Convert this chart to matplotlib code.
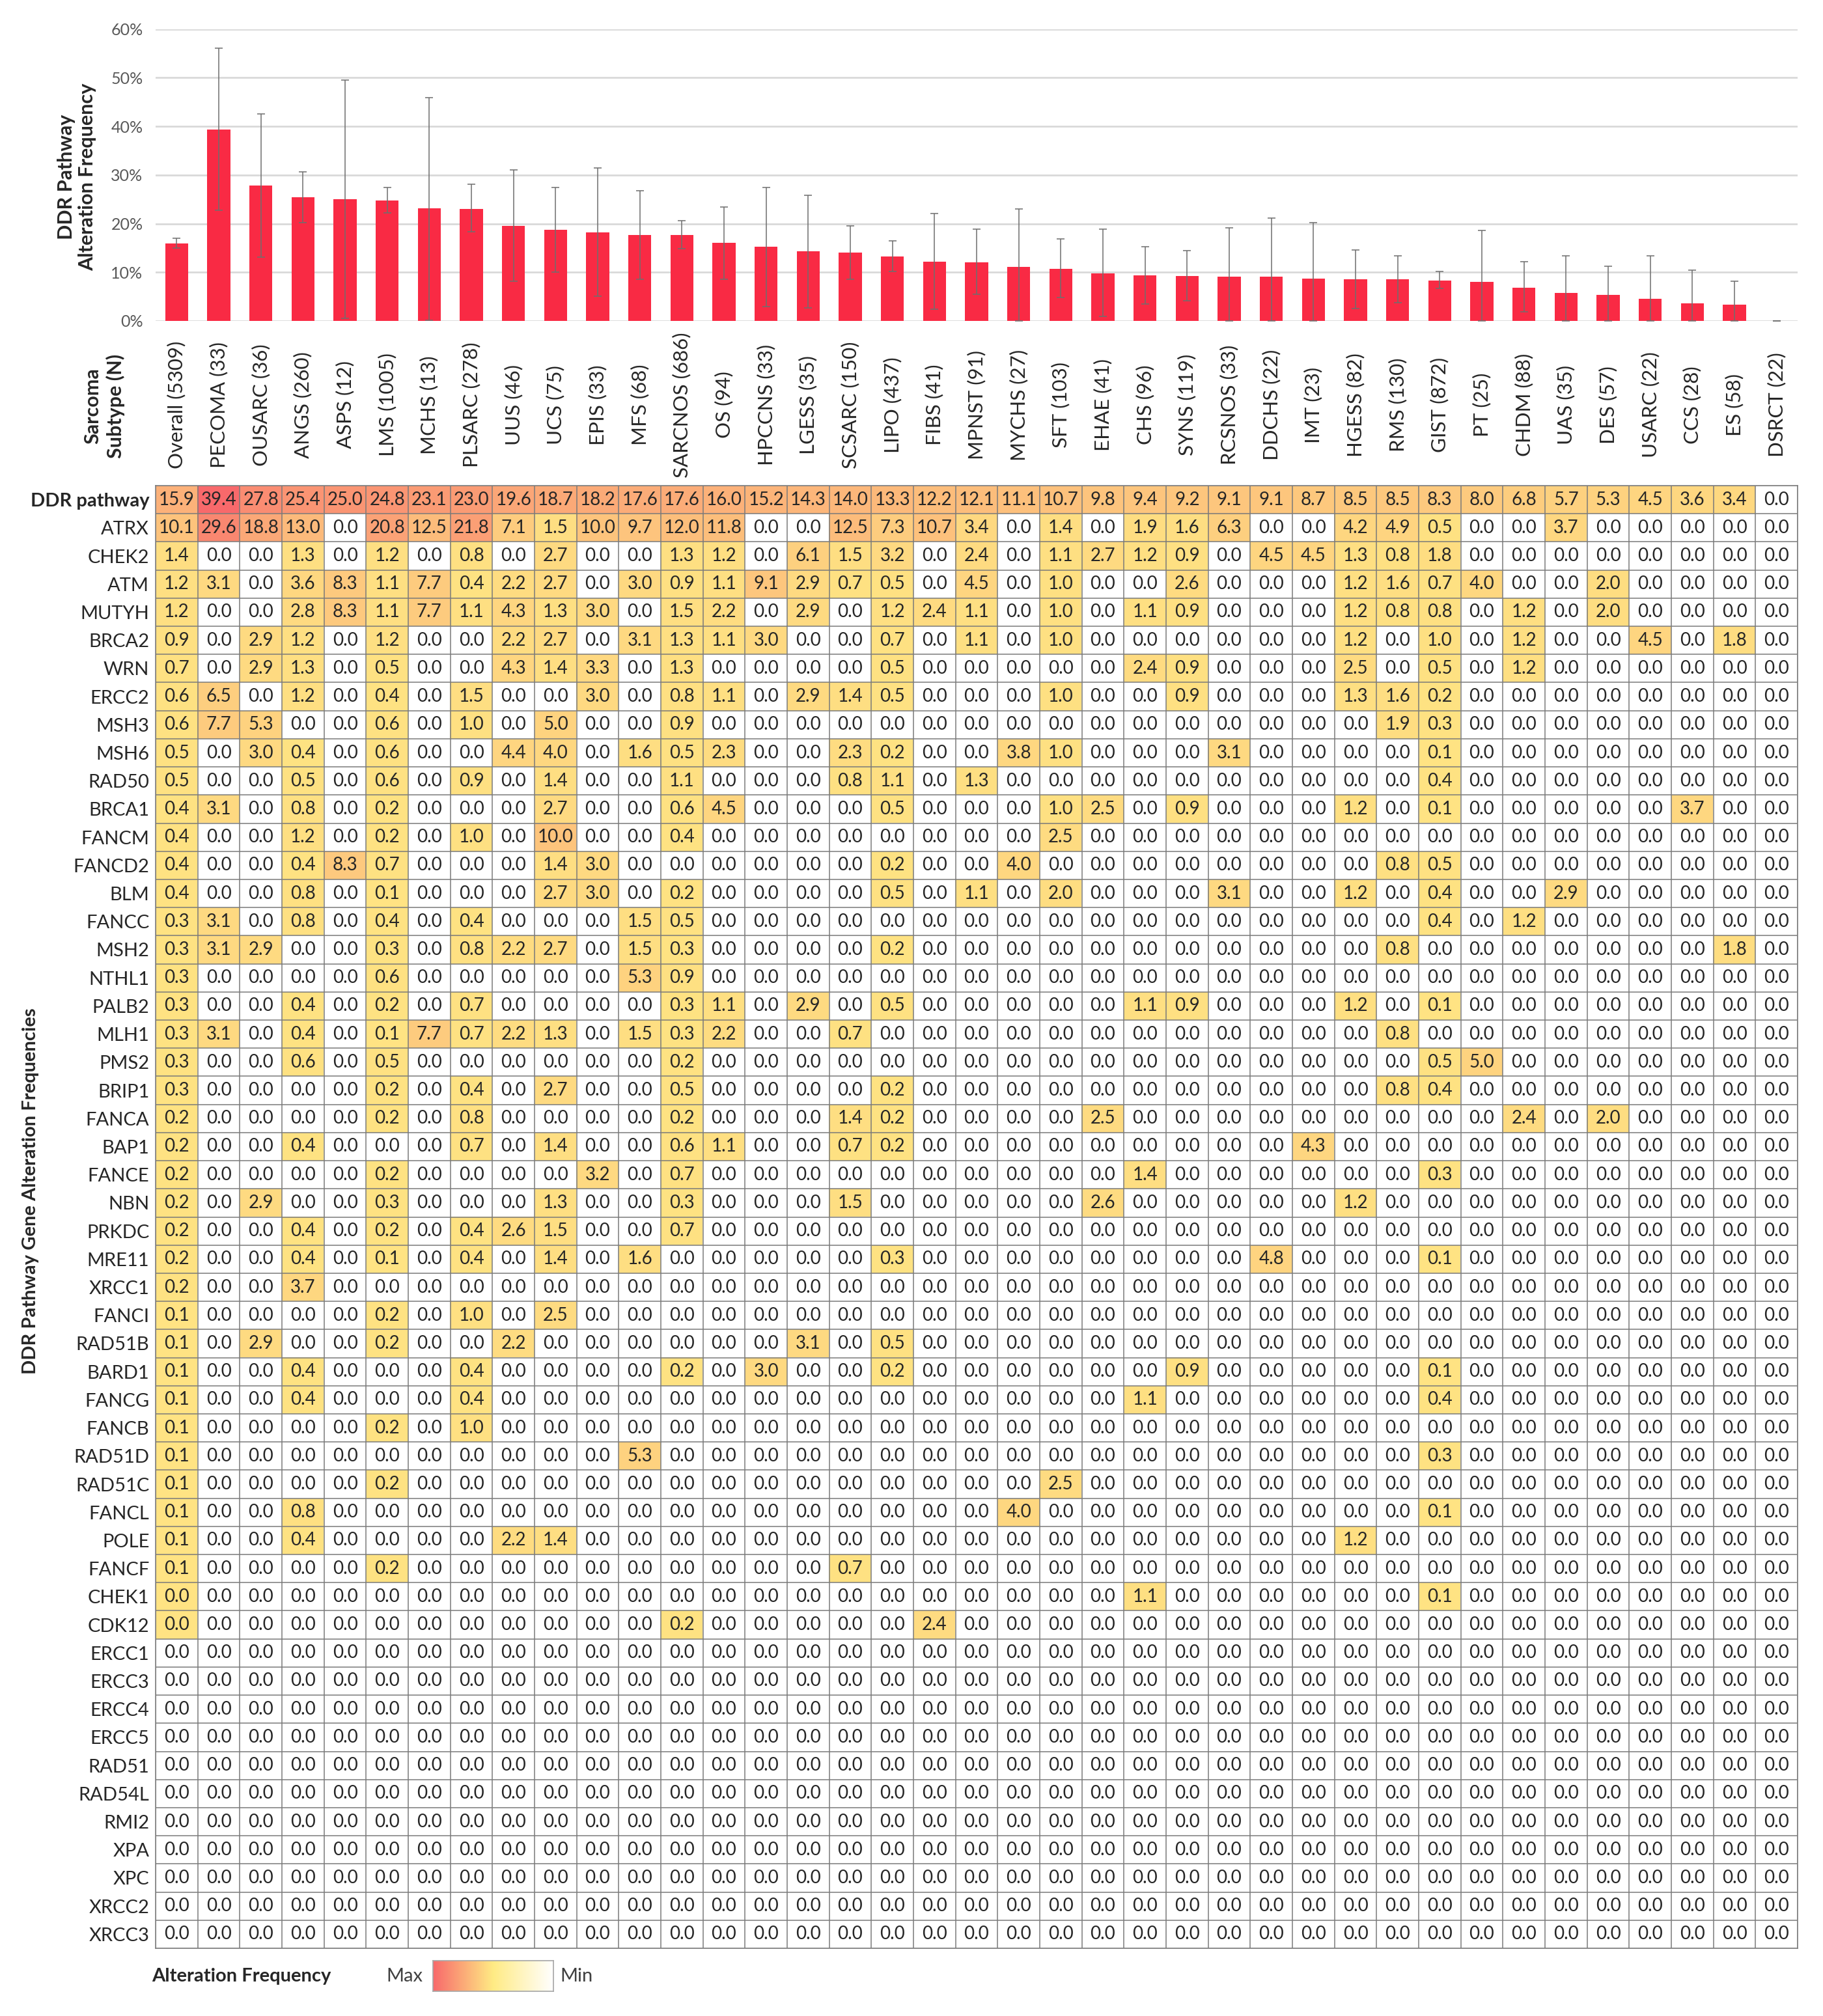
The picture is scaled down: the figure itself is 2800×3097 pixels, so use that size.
import numpy as np
import matplotlib
matplotlib.use("Agg")
import matplotlib.pyplot as plt
from matplotlib.colors import LinearSegmentedColormap
from matplotlib.transforms import blended_transform_factory

plt.rcParams['font.family'] = ['Lato', 'DejaVu Sans']

# sarcoma subtypes and case counts
subtypes = ['Overall', 'PECOMA', 'OUSARC', 'ANGS', 'ASPS', 'LMS', 'MCHS', 'PLSARC', 'UUS', 'UCS',
            'EPIS', 'MFS', 'SARCNOS', 'OS', 'HPCCNS', 'LGESS', 'SCSARC', 'LIPO', 'FIBS', 'MPNST',
            'MYCHS', 'SFT', 'EHAE', 'CHS', 'SYNS', 'RCSNOS', 'DDCHS', 'IMT', 'HGESS', 'RMS',
            'GIST', 'PT', 'CHDM', 'UAS', 'DES', 'USARC', 'CCS', 'ES', 'DSRCT']
n_cases = [5309, 33, 36, 260, 12, 1005, 13, 278, 46, 75,
           33, 68, 686, 94, 33, 35, 150, 437, 41, 91,
           27, 103, 41, 96, 119, 33, 22, 23, 82, 130,
           872, 25, 88, 35, 57, 22, 28, 58, 22]

# error bar ends (%)
ci_low = [15.0, 22.8, 13.1, 20.2, 0.5, 22.2, 0.2, 18.3, 8.2, 10.1,
          5.1, 8.6, 14.9, 8.6, 3.0, 2.7, 8.6, 10.2, 2.4, 5.5,
          0.0, 4.8, 0.9, 3.5, 4.2, 0.0, 0.0, 0.0, 2.6, 3.8,
          6.7, 0.0, 1.9, 0.0, 0.0, 0.0, 0.0, 0.0, 0.0]
ci_high = [17.0, 56.1, 42.5, 30.6, 49.5, 27.4, 45.9, 28.1, 31.1, 27.4,
           31.5, 26.8, 20.6, 23.4, 27.4, 25.8, 19.5, 16.5, 22.1, 18.9,
           23.0, 16.8, 18.9, 15.2, 14.4, 19.1, 21.2, 20.2, 14.6, 13.4,
           10.2, 18.6, 12.2, 13.4, 11.2, 13.4, 10.5, 8.2, 0.0]

# alteration frequency (%) per row
ddr_pathway = [15.9, 39.4, 27.8, 25.4, 25.0, 24.8, 23.1, 23.0, 19.6, 18.7,
               18.2, 17.6, 17.6, 16.0, 15.2, 14.3, 14.0, 13.3, 12.2, 12.1, 11.1, 10.7, 9.8, 9.4,
               9.2, 9.1, 9.1, 8.7, 8.5, 8.5, 8.3, 8.0, 6.8, 5.7, 5.3, 4.5, 3.6, 3.4, 0.0]
atrx = [10.1, 29.6, 18.8, 13.0, 0, 20.8, 12.5, 21.8, 7.1, 1.5,
        10.0, 9.7, 12.0, 11.8, 0, 0, 12.5, 7.3, 10.7, 3.4, 0, 1.4, 0, 1.9,
        1.6, 6.3, 0, 0, 4.2, 4.9, 0.5, 0, 0, 3.7, 0, 0, 0, 0, 0]
chek2 = [1.4, 0, 0, 1.3, 0, 1.2, 0, 0.8, 0, 2.7,
         0, 0, 1.3, 1.2, 0, 6.1, 1.5, 3.2, 0, 2.4, 0, 1.1, 2.7, 1.2,
         0.9, 0, 4.5, 4.5, 1.3, 0.8, 1.8, 0, 0, 0, 0, 0, 0, 0, 0]
atm = [1.2, 3.1, 0, 3.6, 8.3, 1.1, 7.7, 0.4, 2.2, 2.7,
       0, 3.0, 0.9, 1.1, 9.1, 2.9, 0.7, 0.5, 0, 4.5, 0, 1.0, 0, 0,
       2.6, 0, 0, 0, 1.2, 1.6, 0.7, 4.0, 0, 0, 2.0, 0, 0, 0, 0]
mutyh = [1.2, 0, 0, 2.8, 8.3, 1.1, 7.7, 1.1, 4.3, 1.3,
         3.0, 0, 1.5, 2.2, 0, 2.9, 0, 1.2, 2.4, 1.1, 0, 1.0, 0, 1.1,
         0.9, 0, 0, 0, 1.2, 0.8, 0.8, 0, 1.2, 0, 2.0, 0, 0, 0, 0]
brca2 = [0.9, 0, 2.9, 1.2, 0, 1.2, 0, 0, 2.2, 2.7,
         0, 3.1, 1.3, 1.1, 3.0, 0, 0, 0.7, 0, 1.1, 0, 1.0, 0, 0,
         0, 0, 0, 0, 1.2, 0, 1.0, 0, 1.2, 0, 0, 4.5, 0, 1.8, 0]
wrn = [0.7, 0, 2.9, 1.3, 0, 0.5, 0, 0, 4.3, 1.4,
       3.3, 0, 1.3, 0, 0, 0, 0, 0.5, 0, 0, 0, 0, 0, 2.4,
       0.9, 0, 0, 0, 2.5, 0, 0.5, 0, 1.2, 0, 0, 0, 0, 0, 0]
ercc2 = [0.6, 6.5, 0, 1.2, 0, 0.4, 0, 1.5, 0, 0,
         3.0, 0, 0.8, 1.1, 0, 2.9, 1.4, 0.5, 0, 0, 0, 1.0, 0, 0,
         0.9, 0, 0, 0, 1.3, 1.6, 0.2, 0, 0, 0, 0, 0, 0, 0, 0]
msh3 = [0.6, 7.7, 5.3, 0, 0, 0.6, 0, 1.0, 0, 5.0,
        0, 0, 0.9, 0, 0, 0, 0, 0, 0, 0, 0, 0, 0, 0,
        0, 0, 0, 0, 0, 1.9, 0.3, 0, 0, 0, 0, 0, 0, 0, 0]
msh6 = [0.5, 0, 3.0, 0.4, 0, 0.6, 0, 0, 4.4, 4.0,
        0, 1.6, 0.5, 2.3, 0, 0, 2.3, 0.2, 0, 0, 3.8, 1.0, 0, 0,
        0, 3.1, 0, 0, 0, 0, 0.1, 0, 0, 0, 0, 0, 0, 0, 0]
rad50 = [0.5, 0, 0, 0.5, 0, 0.6, 0, 0.9, 0, 1.4,
         0, 0, 1.1, 0, 0, 0, 0.8, 1.1, 0, 1.3, 0, 0, 0, 0,
         0, 0, 0, 0, 0, 0, 0.4, 0, 0, 0, 0, 0, 0, 0, 0]
brca1 = [0.4, 3.1, 0, 0.8, 0, 0.2, 0, 0, 0, 2.7,
         0, 0, 0.6, 4.5, 0, 0, 0, 0.5, 0, 0, 0, 1.0, 2.5, 0,
         0.9, 0, 0, 0, 1.2, 0, 0.1, 0, 0, 0, 0, 0, 3.7, 0, 0]
fancm = [0.4, 0, 0, 1.2, 0, 0.2, 0, 1.0, 0, 10.0,
         0, 0, 0.4, 0, 0, 0, 0, 0, 0, 0, 0, 2.5, 0, 0,
         0, 0, 0, 0, 0, 0, 0, 0, 0, 0, 0, 0, 0, 0, 0]
fancd2 = [0.4, 0, 0, 0.4, 8.3, 0.7, 0, 0, 0, 1.4,
          3.0, 0, 0, 0, 0, 0, 0, 0.2, 0, 0, 4.0, 0, 0, 0,
          0, 0, 0, 0, 0, 0.8, 0.5, 0, 0, 0, 0, 0, 0, 0, 0]
blm = [0.4, 0, 0, 0.8, 0, 0.1, 0, 0, 0, 2.7,
       3.0, 0, 0.2, 0, 0, 0, 0, 0.5, 0, 1.1, 0, 2.0, 0, 0,
       0, 3.1, 0, 0, 1.2, 0, 0.4, 0, 0, 2.9, 0, 0, 0, 0, 0]
fancc = [0.3, 3.1, 0, 0.8, 0, 0.4, 0, 0.4, 0, 0,
         0, 1.5, 0.5, 0, 0, 0, 0, 0, 0, 0, 0, 0, 0, 0,
         0, 0, 0, 0, 0, 0, 0.4, 0, 1.2, 0, 0, 0, 0, 0, 0]
msh2 = [0.3, 3.1, 2.9, 0, 0, 0.3, 0, 0.8, 2.2, 2.7,
        0, 1.5, 0.3, 0, 0, 0, 0, 0.2, 0, 0, 0, 0, 0, 0,
        0, 0, 0, 0, 0, 0.8, 0, 0, 0, 0, 0, 0, 0, 1.8, 0]
nthl1 = [0.3, 0, 0, 0, 0, 0.6, 0, 0, 0, 0,
         0, 5.3, 0.9, 0, 0, 0, 0, 0, 0, 0, 0, 0, 0, 0,
         0, 0, 0, 0, 0, 0, 0, 0, 0, 0, 0, 0, 0, 0, 0]
palb2 = [0.3, 0, 0, 0.4, 0, 0.2, 0, 0.7, 0, 0,
         0, 0, 0.3, 1.1, 0, 2.9, 0, 0.5, 0, 0, 0, 0, 0, 1.1,
         0.9, 0, 0, 0, 1.2, 0, 0.1, 0, 0, 0, 0, 0, 0, 0, 0]
mlh1 = [0.3, 3.1, 0, 0.4, 0, 0.1, 7.7, 0.7, 2.2, 1.3,
        0, 1.5, 0.3, 2.2, 0, 0, 0.7, 0, 0, 0, 0, 0, 0, 0,
        0, 0, 0, 0, 0, 0.8, 0, 0, 0, 0, 0, 0, 0, 0, 0]
pms2 = [0.3, 0, 0, 0.6, 0, 0.5, 0, 0, 0, 0,
        0, 0, 0.2, 0, 0, 0, 0, 0, 0, 0, 0, 0, 0, 0,
        0, 0, 0, 0, 0, 0, 0.5, 5.0, 0, 0, 0, 0, 0, 0, 0]
brip1 = [0.3, 0, 0, 0, 0, 0.2, 0, 0.4, 0, 2.7,
         0, 0, 0.5, 0, 0, 0, 0, 0.2, 0, 0, 0, 0, 0, 0,
         0, 0, 0, 0, 0, 0.8, 0.4, 0, 0, 0, 0, 0, 0, 0, 0]
fanca = [0.2, 0, 0, 0, 0, 0.2, 0, 0.8, 0, 0,
         0, 0, 0.2, 0, 0, 0, 1.4, 0.2, 0, 0, 0, 0, 2.5, 0,
         0, 0, 0, 0, 0, 0, 0, 0, 2.4, 0, 2.0, 0, 0, 0, 0]
bap1 = [0.2, 0, 0, 0.4, 0, 0, 0, 0.7, 0, 1.4,
        0, 0, 0.6, 1.1, 0, 0, 0.7, 0.2, 0, 0, 0, 0, 0, 0,
        0, 0, 0, 4.3, 0, 0, 0, 0, 0, 0, 0, 0, 0, 0, 0]
fance = [0.2, 0, 0, 0, 0, 0.2, 0, 0, 0, 0,
         3.2, 0, 0.7, 0, 0, 0, 0, 0, 0, 0, 0, 0, 0, 1.4,
         0, 0, 0, 0, 0, 0, 0.3, 0, 0, 0, 0, 0, 0, 0, 0]
nbn = [0.2, 0, 2.9, 0, 0, 0.3, 0, 0, 0, 1.3,
       0, 0, 0.3, 0, 0, 0, 1.5, 0, 0, 0, 0, 0, 2.6, 0,
       0, 0, 0, 0, 1.2, 0, 0, 0, 0, 0, 0, 0, 0, 0, 0]
prkdc = [0.2, 0, 0, 0.4, 0, 0.2, 0, 0.4, 2.6, 1.5,
         0, 0, 0.7, 0, 0, 0, 0, 0, 0, 0, 0, 0, 0, 0,
         0, 0, 0, 0, 0, 0, 0, 0, 0, 0, 0, 0, 0, 0, 0]
mre11 = [0.2, 0, 0, 0.4, 0, 0.1, 0, 0.4, 0, 1.4,
         0, 1.6, 0, 0, 0, 0, 0, 0.3, 0, 0, 0, 0, 0, 0,
         0, 0, 4.8, 0, 0, 0, 0.1, 0, 0, 0, 0, 0, 0, 0, 0]
xrcc1 = [0.2, 0, 0, 3.7, 0, 0, 0, 0, 0, 0,
         0, 0, 0, 0, 0, 0, 0, 0, 0, 0, 0, 0, 0, 0,
         0, 0, 0, 0, 0, 0, 0, 0, 0, 0, 0, 0, 0, 0, 0]
fanci = [0.1, 0, 0, 0, 0, 0.2, 0, 1.0, 0, 2.5,
         0, 0, 0, 0, 0, 0, 0, 0, 0, 0, 0, 0, 0, 0,
         0, 0, 0, 0, 0, 0, 0, 0, 0, 0, 0, 0, 0, 0, 0]
rad51b = [0.1, 0, 2.9, 0, 0, 0.2, 0, 0, 2.2, 0,
          0, 0, 0, 0, 0, 3.1, 0, 0.5, 0, 0, 0, 0, 0, 0,
          0, 0, 0, 0, 0, 0, 0, 0, 0, 0, 0, 0, 0, 0, 0]
bard1 = [0.1, 0, 0, 0.4, 0, 0, 0, 0.4, 0, 0,
         0, 0, 0.2, 0, 3.0, 0, 0, 0.2, 0, 0, 0, 0, 0, 0,
         0.9, 0, 0, 0, 0, 0, 0.1, 0, 0, 0, 0, 0, 0, 0, 0]
fancg = [0.1, 0, 0, 0.4, 0, 0, 0, 0.4, 0, 0,
         0, 0, 0, 0, 0, 0, 0, 0, 0, 0, 0, 0, 0, 1.1,
         0, 0, 0, 0, 0, 0, 0.4, 0, 0, 0, 0, 0, 0, 0, 0]
fancb = [0.1, 0, 0, 0, 0, 0.2, 0, 1.0, 0, 0,
         0, 0, 0, 0, 0, 0, 0, 0, 0, 0, 0, 0, 0, 0,
         0, 0, 0, 0, 0, 0, 0, 0, 0, 0, 0, 0, 0, 0, 0]
rad51d = [0.1, 0, 0, 0, 0, 0, 0, 0, 0, 0,
          0, 5.3, 0, 0, 0, 0, 0, 0, 0, 0, 0, 0, 0, 0,
          0, 0, 0, 0, 0, 0, 0.3, 0, 0, 0, 0, 0, 0, 0, 0]
rad51c = [0.1, 0, 0, 0, 0, 0.2, 0, 0, 0, 0,
          0, 0, 0, 0, 0, 0, 0, 0, 0, 0, 0, 2.5, 0, 0,
          0, 0, 0, 0, 0, 0, 0, 0, 0, 0, 0, 0, 0, 0, 0]
fancl = [0.1, 0, 0, 0.8, 0, 0, 0, 0, 0, 0,
         0, 0, 0, 0, 0, 0, 0, 0, 0, 0, 4.0, 0, 0, 0,
         0, 0, 0, 0, 0, 0, 0.1, 0, 0, 0, 0, 0, 0, 0, 0]
pole = [0.1, 0, 0, 0.4, 0, 0, 0, 0, 2.2, 1.4,
        0, 0, 0, 0, 0, 0, 0, 0, 0, 0, 0, 0, 0, 0,
        0, 0, 0, 0, 1.2, 0, 0, 0, 0, 0, 0, 0, 0, 0, 0]
fancf = [0.1, 0, 0, 0, 0, 0.2, 0, 0, 0, 0,
         0, 0, 0, 0, 0, 0, 0.7, 0, 0, 0, 0, 0, 0, 0,
         0, 0, 0, 0, 0, 0, 0, 0, 0, 0, 0, 0, 0, 0, 0]
chek1 = [0.04, 0, 0, 0, 0, 0, 0, 0, 0, 0,
         0, 0, 0, 0, 0, 0, 0, 0, 0, 0, 0, 0, 0, 1.1,
         0, 0, 0, 0, 0, 0, 0.1, 0, 0, 0, 0, 0, 0, 0, 0]
cdk12 = [0.03, 0, 0, 0, 0, 0, 0, 0, 0, 0,
         0, 0, 0.2, 0, 0, 0, 0, 0, 2.4, 0, 0, 0, 0, 0,
         0, 0, 0, 0, 0, 0, 0, 0, 0, 0, 0, 0, 0, 0, 0]
ercc1 = [0, 0, 0, 0, 0, 0, 0, 0, 0, 0, 0, 0, 0, 0, 0, 0, 0, 0, 0, 0,
         0, 0, 0, 0, 0, 0, 0, 0, 0, 0, 0, 0, 0, 0, 0, 0, 0, 0, 0]
ercc3 = [0, 0, 0, 0, 0, 0, 0, 0, 0, 0, 0, 0, 0, 0, 0, 0, 0, 0, 0, 0,
         0, 0, 0, 0, 0, 0, 0, 0, 0, 0, 0, 0, 0, 0, 0, 0, 0, 0, 0]
ercc4 = [0, 0, 0, 0, 0, 0, 0, 0, 0, 0, 0, 0, 0, 0, 0, 0, 0, 0, 0, 0,
         0, 0, 0, 0, 0, 0, 0, 0, 0, 0, 0, 0, 0, 0, 0, 0, 0, 0, 0]
ercc5 = [0, 0, 0, 0, 0, 0, 0, 0, 0, 0, 0, 0, 0, 0, 0, 0, 0, 0, 0, 0,
         0, 0, 0, 0, 0, 0, 0, 0, 0, 0, 0, 0, 0, 0, 0, 0, 0, 0, 0]
rad51 = [0, 0, 0, 0, 0, 0, 0, 0, 0, 0, 0, 0, 0, 0, 0, 0, 0, 0, 0, 0,
         0, 0, 0, 0, 0, 0, 0, 0, 0, 0, 0, 0, 0, 0, 0, 0, 0, 0, 0]
rad54l = [0, 0, 0, 0, 0, 0, 0, 0, 0, 0, 0, 0, 0, 0, 0, 0, 0, 0, 0, 0,
          0, 0, 0, 0, 0, 0, 0, 0, 0, 0, 0, 0, 0, 0, 0, 0, 0, 0, 0]
rmi2 = [0, 0, 0, 0, 0, 0, 0, 0, 0, 0, 0, 0, 0, 0, 0, 0, 0, 0, 0, 0,
        0, 0, 0, 0, 0, 0, 0, 0, 0, 0, 0, 0, 0, 0, 0, 0, 0, 0, 0]
xpa = [0, 0, 0, 0, 0, 0, 0, 0, 0, 0, 0, 0, 0, 0, 0, 0, 0, 0, 0, 0,
       0, 0, 0, 0, 0, 0, 0, 0, 0, 0, 0, 0, 0, 0, 0, 0, 0, 0, 0]
xpc = [0, 0, 0, 0, 0, 0, 0, 0, 0, 0, 0, 0, 0, 0, 0, 0, 0, 0, 0, 0,
       0, 0, 0, 0, 0, 0, 0, 0, 0, 0, 0, 0, 0, 0, 0, 0, 0, 0, 0]
xrcc2 = [0, 0, 0, 0, 0, 0, 0, 0, 0, 0, 0, 0, 0, 0, 0, 0, 0, 0, 0, 0,
         0, 0, 0, 0, 0, 0, 0, 0, 0, 0, 0, 0, 0, 0, 0, 0, 0, 0, 0]
xrcc3 = [0, 0, 0, 0, 0, 0, 0, 0, 0, 0, 0, 0, 0, 0, 0, 0, 0, 0, 0, 0,
         0, 0, 0, 0, 0, 0, 0, 0, 0, 0, 0, 0, 0, 0, 0, 0, 0, 0, 0]

row_names = ['DDR pathway', 'ATRX', 'CHEK2', 'ATM', 'MUTYH', 'BRCA2', 'WRN', 'ERCC2', 'MSH3',
             'MSH6', 'RAD50', 'BRCA1', 'FANCM', 'FANCD2', 'BLM', 'FANCC', 'MSH2', 'NTHL1',
             'PALB2', 'MLH1', 'PMS2', 'BRIP1', 'FANCA', 'BAP1', 'FANCE', 'NBN', 'PRKDC',
             'MRE11', 'XRCC1', 'FANCI', 'RAD51B', 'BARD1', 'FANCG', 'FANCB', 'RAD51D',
             'RAD51C', 'FANCL', 'POLE', 'FANCF', 'CHEK1', 'CDK12', 'ERCC1', 'ERCC3', 'ERCC4',
             'ERCC5', 'RAD51', 'RAD54L', 'RMI2', 'XPA', 'XPC', 'XRCC2', 'XRCC3']
rows = [ddr_pathway, atrx, chek2, atm, mutyh, brca2, wrn, ercc2, msh3, msh6, rad50, brca1,
        fancm, fancd2, blm, fancc, msh2, nthl1, palb2, mlh1, pms2, brip1, fanca, bap1, fance,
        nbn, prkdc, mre11, xrcc1, fanci, rad51b, bard1, fancg, fancb, rad51d, rad51c, fancl,
        pole, fancf, chek1, cdk12, ercc1, ercc3, ercc4, ercc5, rad51, rad54l, rmi2, xpa, xpc,
        xrcc2, xrcc3]
for r in rows:
    assert len(r) == len(subtypes)

freq = np.array(rows, dtype=float)
ncol = len(subtypes)
nrow = len(rows)

W, H = 2800, 3097


def box(x0, y0, x1, y1):
    # pixel box -> figure fraction
    return [x0 / W, 1 - y1 / H, (x1 - x0) / W, (y1 - y0) / H]


fig = plt.figure(figsize=(W / 100, H / 100), dpi=100)
txt = '#262626'

# ---- bar chart ----
ax = fig.add_axes(box(239, 44.6, 2761, 493))
x = np.arange(ncol)
vals = np.array(ddr_pathway)
lo = vals - np.array(ci_low)
hi = np.array(ci_high) - vals
ax.bar(x, vals, width=0.55, color='#F92A44', zorder=2)
ax.errorbar(x, vals, yerr=[lo, hi], fmt='none', ecolor='#6E6E6E', elinewidth=1.1,
            capsize=4, capthick=1.1, zorder=3)
ax.set_xlim(-0.5, ncol - 0.5)
ax.set_ylim(0, 60)
ax.set_yticks(range(0, 61, 10))
ax.set_yticklabels([f'{t}%' for t in range(0, 61, 10)], fontsize=18, color='#595959')
ax.set_xticks([])
ax.tick_params(axis='y', length=0, pad=14)
ax.yaxis.grid(True, color='#D9D9D9', lw=2)
ax.set_axisbelow(True)
for s in ax.spines.values():
    s.set_visible(False)

fig.text(118 / W, 1 - 272 / H, 'DDR Pathway\nAlteration Frequency', rotation=90,
         ha='center', va='center', fontsize=22, fontweight='bold', color=txt, linespacing=1.15)
fig.text(160 / W, 1 - 624 / H, 'Sarcoma\nSubtype (N)', rotation=90,
         ha='center', va='center', fontsize=22, fontweight='bold', color=txt, linespacing=1.3)

# ---- heat table ----
axt = fig.add_axes(box(239, 746, 2761, 2993))
cmap = LinearSegmentedColormap.from_list('yr', ['#FFE383', '#F8696B'])
cmap.set_bad('white')
masked = np.ma.masked_where(freq <= 0, freq)
axt.imshow(masked, cmap=cmap, vmin=0, vmax=freq.max(), aspect='auto',
           extent=(-0.5, ncol - 0.5, nrow - 0.5, -0.5), interpolation='nearest')
axt.hlines(np.arange(-0.5, nrow), -0.5, ncol - 0.5, color='#7A7A7A', lw=1.1)
axt.vlines(np.arange(-0.5, ncol), -0.5, nrow - 0.5, color='#7A7A7A', lw=1.1)
for i in range(nrow):
    for j in range(ncol):
        axt.text(j, i, f'{freq[i, j]:.1f}', ha='center', va='center',
                 fontsize=20, color=txt)
axt.set_xlim(-0.5, ncol - 0.5)
axt.set_ylim(nrow - 0.5, -0.5)
axt.set_xticks([])
axt.set_yticks(range(nrow))
axt.set_yticklabels(row_names, fontsize=21, color=txt)
axt.get_yticklabels()[0].set_fontweight('bold')
axt.tick_params(axis='y', length=0, pad=7)
for s in axt.spines.values():
    s.set_color('#7A7A7A')
    s.set_linewidth(1.1)

# column labels between bars and table
tr = blended_transform_factory(axt.transData, fig.transFigure)
for j, (name, n) in enumerate(zip(subtypes, n_cases)):
    axt.text(j, 1 - 622 / H, f'{name} ({n})', transform=tr, rotation=90,
             ha='center', va='center', fontsize=22.5, color=txt)

fig.text(47 / W, 1 - 1830 / H, 'DDR Pathway Gene Alteration Frequencies', rotation=90,
         ha='center', va='center', fontsize=21, fontweight='bold', color=txt)

# ---- colour legend ----
fig.text(233 / W, 1 - 3036 / H, 'Alteration Frequency', ha='left', va='center',
         fontsize=21, fontweight='bold', color=txt)
fig.text(593 / W, 1 - 3036 / H, 'Max', ha='left', va='center', fontsize=21, color='#404040')
fig.text(860 / W, 1 - 3036 / H, 'Min', ha='left', va='center', fontsize=21, color='#404040')
axl = fig.add_axes(box(665, 3012, 850, 3059))
lcmap = LinearSegmentedColormap.from_list('leg', ['#F8696B', '#FFEB84', '#FFFFFF'])
axl.imshow(np.linspace(0, 1, 256)[None, :], cmap=lcmap, aspect='auto')
axl.set_xticks([])
axl.set_yticks([])
for s in axl.spines.values():
    s.set_color('#A6A6A6')
    s.set_linewidth(1.2)

fig.savefig('out.png', dpi=100, facecolor='white')
